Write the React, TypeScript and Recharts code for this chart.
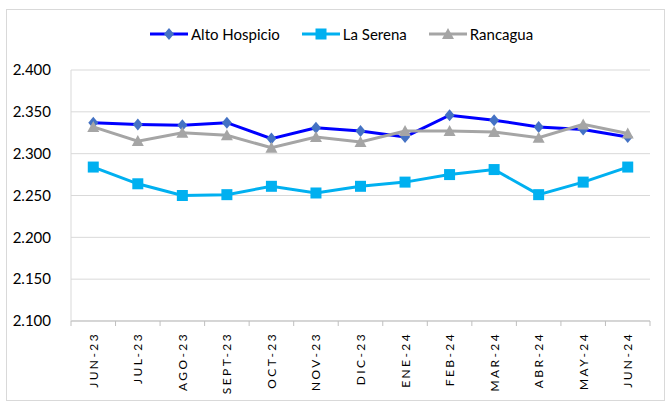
import React from "react";
import { CartesianGrid, Line, LineChart, XAxis, YAxis } from "recharts";

const months = ["JUN-23", "JUL-23", "AGO-23", "SEPT-23", "OCT-23", "NOV-23", "DIC-23", "ENE-24", "FEB-24", "MAR-24", "ABR-24", "MAY-24", "JUN-24"];
const altoHospicio = [2337, 2335, 2334, 2337, 2318, 2331, 2327, 2320, 2346, 2340, 2332, 2329, 2320];
const laSerena = [2284, 2264, 2250, 2251, 2261, 2253, 2261, 2266, 2275, 2281, 2251, 2266, 2284];
const rancagua = [2332, 2315, 2325, 2322, 2307, 2320, 2314, 2327, 2327, 2326, 2319, 2335, 2324];
const yTicks = [2100, 2150, 2200, 2250, 2300, 2350, 2400];

const data = months.map((m, i) => ({
  month: m,
  ah: altoHospicio[i],
  ls: laSerena[i],
  ra: rancagua[i],
}));

const W = 670;
const H = 401;
const M = { top: 70, right: 20, left: 0, bottom: 0 };
const Y_W = 71;
const band = (W - Y_W - M.right) / months.length;
const FONT = "Lato, 'Noto Sans', sans-serif";

const fmt = (v: number) => (v / 1000).toFixed(3);

const Diamond = (p: any) => {
  const { cx, cy } = p;
  if (cx == null || cy == null) return null;
  return <path d={`M${cx},${cy - 6} L${cx + 5},${cy} L${cx},${cy + 6} L${cx - 5},${cy} Z`} fill="#4472C4" />;
};
const Square = (p: any) => {
  const { cx, cy } = p;
  if (cx == null || cy == null) return null;
  return <rect x={cx - 5.5} y={cy - 5.5} width={11} height={11} fill="#00B0F0" />;
};
const Triangle = (p: any) => {
  const { cx, cy } = p;
  if (cx == null || cy == null) return null;
  return <path d={`M${cx},${cy - 6} L${cx + 6},${cy + 5} L${cx - 6},${cy + 5} Z`} fill="#A5A5A5" />;
};

const XTick = (p: any) => {
  const { x, y, payload, index } = p;
  const last = index === months.length - 1;
  return (
    <g>
      <line x1={x - band / 2} x2={x - band / 2} y1={y - 8} y2={y - 3} stroke="#BFBFBF" />
      {last && <line x1={x + band / 2} x2={x + band / 2} y1={y - 8} y2={y - 3} stroke="#BFBFBF" />}
      <text
        transform={`translate(${x + 4.5},${y + 3}) rotate(-90)`}
        textAnchor="end"
        fontSize={12}
        letterSpacing={2.4}
        fill="#000"
        fontFamily={FONT}
      >
        {payload.value}
      </text>
    </g>
  );
};

const legendItems = [
  { label: "Alto Hospicio", line: "#0000FF", Marker: Diamond },
  { label: "La Serena", line: "#00B0F0", Marker: Square },
  { label: "Rancagua", line: "#A5A5A5", Marker: Triangle },
];

const ChartLegend = () => (
  <div
    style={{
      position: "absolute",
      left: 150,
      top: 25,
      height: 18,
      display: "flex",
      gap: 22,
      fontFamily: FONT,
      fontSize: 15,
      color: "#000",
    }}
  >
    {legendItems.map(({ label, line, Marker }) => (
      <div key={label} style={{ display: "flex", alignItems: "center" }}>
        <svg width={38} height={14}>
          <line x1={0} x2={38} y1={7} y2={7} stroke={line} strokeWidth={3} />
          <Marker cx={19} cy={7} />
        </svg>
        <span style={{ marginLeft: 3 }}>{label}</span>
      </div>
    ))}
  </div>
);

export default function App() {
  return (
    <div style={{ position: "absolute", left: 0, top: 0, width: W, height: H, background: "#fff" }}>
      <div style={{ position: "absolute", left: 6, top: 9, width: 657, height: 390, border: "1px solid #D9D9D9" }} />
      <ChartLegend />
      <LineChart width={W} height={H} data={data} margin={M} style={{ position: "absolute", left: 0, top: 0 }}>
        <CartesianGrid vertical={false} stroke="#D9D9D9" />
        <XAxis
          dataKey="month"
          interval={0}
          height={80}
          padding={{ left: band / 2, right: band / 2 }}
          axisLine={{ stroke: "#BFBFBF" }}
          tickLine={false}
          tick={<XTick />}
        />
        <YAxis
          width={Y_W}
          domain={[2100, 2400]}
          ticks={yTicks}
          tickFormatter={fmt}
          axisLine={{ stroke: "#D9D9D9" }}
          tickLine={false}
          tick={{ fill: "#000", fontSize: 15, fontFamily: FONT }}
          tickMargin={14}
        />
        <Line dataKey="ah" name="Alto Hospicio" stroke="#0000FF" strokeWidth={3} dot={<Diamond />} activeDot={false} isAnimationActive={false} />
        <Line dataKey="ls" name="La Serena" stroke="#00B0F0" strokeWidth={3} dot={<Square />} activeDot={false} isAnimationActive={false} />
        <Line dataKey="ra" name="Rancagua" stroke="#A5A5A5" strokeWidth={3} dot={<Triangle />} activeDot={false} isAnimationActive={false} />
      </LineChart>
    </div>
  );
}
